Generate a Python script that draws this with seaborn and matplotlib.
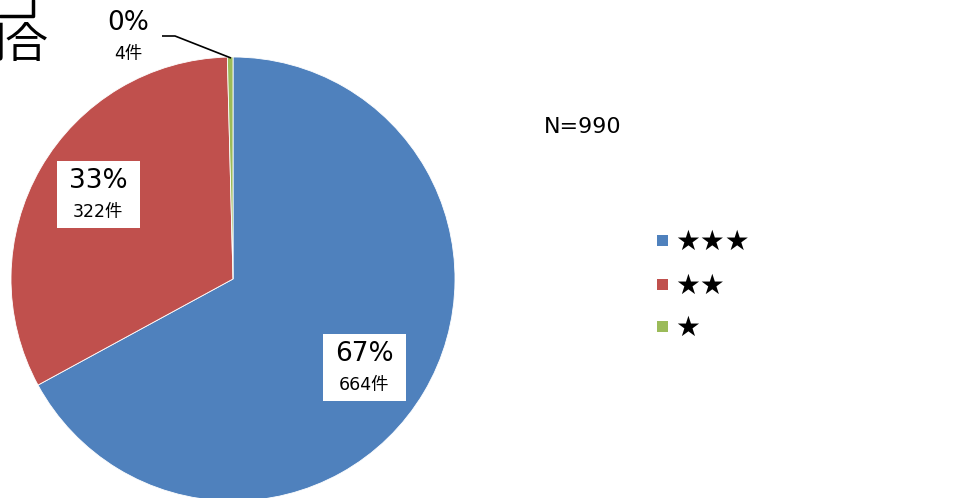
import matplotlib
matplotlib.use("Agg")
import matplotlib.pyplot as plt
import seaborn as sns

# Counts per rating
categories = ["★★★", "★★", "★"]
counts = [664, 322, 4]
colors = ["#4F81BD", "#C0504D", "#9BBB59"]
total_label = "N=990"
title_text = "割合"

sns.set_theme(style="white")
plt.rcParams["font.family"] = ["DejaVu Sans", "Noto Sans CJK JP"]

W, H = 959, 498
fig = plt.figure(figsize=(W / 100, H / 100), dpi=100)
ax = fig.add_axes([0, 0, 1, 1])

cx, cy, r = 233, H - 279, 222
wedges, _ = ax.pie(counts, colors=colors, startangle=90, counterclock=False,
                   center=(cx, cy), radius=r, frame=True,
                   wedgeprops=dict(edgecolor="white", linewidth=0.6))
ax.set_xlim(0, W)
ax.set_ylim(0, H)
ax.set_aspect("equal")
ax.axis("off")

total = sum(counts)
pcts = [round(c / total * 100) for c in counts]

# Data labels: percentage on top, count below
label_pos = [(364, H - 368), (98, H - 195), (128, H - 37)]
boxed = [True, True, False]
for (x, y), p, c, b in zip(label_pos, pcts, counts, boxed):
    if b:
        ax.add_patch(plt.Rectangle((x - 41, y - 33), 83, 67, facecolor="white",
                                   edgecolor="none", zorder=3))
    ax.text(x, y + 14, f"{p}%", ha="center", va="center", fontsize=19,
            color="black", zorder=4)
    ax.text(x, y - 17, f"{c}件", ha="center", va="center", fontsize=12.5,
            color="black", zorder=4)

# Leader line for the tiny slice
ax.plot([162, 175, 231], [H - 36, H - 36, H - 58], color="black", lw=1.2,
        solid_capstyle="butt", zorder=4)

# Sample size
ax.text(583, H - 127, total_label, ha="center", va="center", fontsize=16,
        color="black")

# Legend
leg_y = [240, 284, 326]
for name, col, y in zip(categories, colors, leg_y):
    ax.add_patch(plt.Rectangle((657, H - y - 6), 11, 11, facecolor=col,
                               edgecolor="none"))
    ax.text(675, H - y - 2, name, ha="left", va="center", fontsize=20,
            color="black")

# Title, partly outside the canvas
ax.text(49, H - 46, title_text, ha="right", va="center", fontsize=31,
        color="black", family=["Noto Sans CJK JP"])
ax.plot([0, 33, 33], [H - 16, H - 16, H], color="black", lw=2.5)

fig.savefig("out.png", dpi=100)
